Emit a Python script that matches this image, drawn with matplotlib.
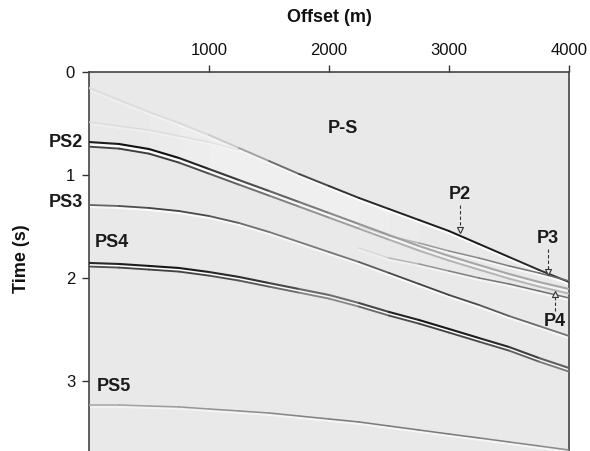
import numpy as np
import matplotlib
matplotlib.use("Agg")
import matplotlib.pyplot as plt
from matplotlib.collections import LineCollection

plt.rcParams['font.family'] = ['Liberation Sans', 'DejaVu Sans']

# ---- data (offset in m, time in s) ----
offsets = [0, 250, 500, 750, 1000, 1250, 1500, 1750, 2000,
           2250, 2500, 2750, 3000, 3250, 3500, 3750, 4000]
t_P2 = [0.155, 0.272, 0.388, 0.495, 0.612, 0.738, 0.864, 0.990, 1.107,
        1.223, 1.330, 1.437, 1.544, 1.670, 1.796, 1.922, 2.039]
a_P2 = [0.05, 0.05, 0.06, 0.06, 0.08, 0.2, 0.45, 0.65, 0.8,
        0.85, 0.9, 0.9, 0.95, 0.95, 0.9, 0.85, 0.8]
t_PS2 = [0.680, 0.699, 0.748, 0.835, 0.942, 1.049, 1.155, 1.262, 1.369,
         1.476, 1.583, 1.689, 1.786, 1.874, 1.961, 2.039, 2.107]
a_PS2 = [0.9, 0.95, 1.0, 0.95, 0.85, 0.75, 0.65, 0.55, 0.45,
         0.4, 0.35, 0.3, 0.3, 0.3, 0.3, 0.3, 0.3]
t_PS3 = [1.291, 1.301, 1.320, 1.350, 1.398, 1.466, 1.553, 1.650, 1.748,
         1.845, 1.951, 2.058, 2.165, 2.262, 2.369, 2.466, 2.563]
a_PS3 = [0.55, 0.65, 0.75, 0.75, 0.7, 0.6, 0.5, 0.5, 0.5,
         0.55, 0.7, 0.75, 0.75, 0.7, 0.6, 0.55, 0.5]
t_PS4 = [1.854, 1.864, 1.883, 1.903, 1.942, 1.990, 2.049, 2.107, 2.165,
         2.243, 2.330, 2.408, 2.495, 2.583, 2.670, 2.777, 2.874]
a_PS4 = [0.85, 0.9, 0.95, 0.95, 0.9, 0.85, 0.8, 0.65, 0.5,
         0.6, 0.85, 0.95, 0.95, 0.9, 0.85, 0.7, 0.55]
t_PS5 = [3.233, 3.233, 3.243, 3.252, 3.272, 3.291, 3.311, 3.340, 3.369,
         3.398, 3.437, 3.476, 3.515, 3.553, 3.592, 3.631, 3.670]
a_PS5 = [0.3, 0.3, 0.35, 0.35, 0.4, 0.4, 0.45, 0.45, 0.5,
         0.5, 0.5, 0.5, 0.5, 0.5, 0.45, 0.45, 0.4]

offsets_far = [2250, 2500, 2750, 3000, 3250, 3500, 3750, 4000]
t_P3 = [1.495, 1.592, 1.660, 1.738, 1.806, 1.883, 1.951, 2.029]
a_P3 = [0.0, 0.15, 0.3, 0.4, 0.45, 0.5, 0.55, 0.6]
t_P4 = [1.709, 1.806, 1.864, 1.932, 2.000, 2.058, 2.126, 2.194]
a_P4 = [0.0, 0.15, 0.3, 0.45, 0.5, 0.55, 0.55, 0.55]

offsets_near = [0, 250, 500, 750, 1000, 1250]
t_F1 = [0.485, 0.524, 0.563, 0.621, 0.680, 0.757]
a_F1 = [0.06, 0.06, 0.06, 0.06, 0.05, 0.0]

# labels: (text, offset, time)
event_labels = [("P-S", 2117, 0.544), ("PS4", 50, 1.655), ("PS5", 67, 3.05)]
side_labels = [("PS2", -50, 0.689), ("PS3", -50, 1.27)]
# arrow labels: text, offset, label time, tail time, tip time, direction
arrow_labels = [("P2", 3092, 1.194, 1.29, 1.535, 'v'),
                ("P3", 3825, 1.617, 1.72, 1.945, 'v'),
                ("P4", 3883, 2.42, 2.32, 2.16, '^')]

BG = 0.915

fig = plt.figure(figsize=(5.9, 4.51), dpi=100)
ax = fig.add_axes([89/590, 0, 480/590, 379/451])
ax.set_xlim(0, 4000)
ax.set_ylim(3.68, 0)
ax.set_facecolor((BG, BG, BG))

# lighter noisy band between P2 and PS2 (soft edges via stacked translucent fills)
for i0, i1 in [(2, 12), (3, 11), (4, 10)]:
    ax.fill_between(offsets[i0:i1], t_P2[i0:i1], t_PS2[i0:i1], color='white',
                    alpha=0.12, lw=0, zorder=1)


def segs_of(x, t):
    pts = np.column_stack([x, t])
    return np.stack([pts[:-1], pts[1:]], axis=1)


def draw_event(x, t, a, lw=1.4, shift_white=0.02, double=None):
    x = np.asarray(x, float)
    t = np.asarray(t, float)
    a = np.asarray(a, float)
    amp = 0.5 * (a[:-1] + a[1:])
    wcol = [(1, 1, 1, min(1, 0.25 + 0.75 * v)) for v in amp]
    ax.add_collection(LineCollection(segs_of(x, t + shift_white), colors=wcol,
                                     linewidths=lw * 1.1, zorder=2, capstyle='round'))
    dcol = [(BG - v * (BG - 0.05),) * 3 for v in amp]
    ax.add_collection(LineCollection(segs_of(x, t), colors=dcol, linewidths=lw,
                                     zorder=3, capstyle='round'))
    if double is not None:
        dcol2 = [(BG - 0.8 * v * (BG - 0.05),) * 3 for v in amp]
        ax.add_collection(LineCollection(segs_of(x, t + double), colors=dcol2,
                                         linewidths=lw * 0.9, zorder=3, capstyle='round'))


draw_event(offsets_near, t_F1, a_F1, lw=1.0)
draw_event(offsets, t_P2, a_P2, lw=1.4)
draw_event(offsets_far, t_P3, a_P3, lw=1.1)
draw_event(offsets_far, t_P4, a_P4, lw=1.1)
draw_event(offsets, t_PS2, a_PS2, lw=1.5, double=0.045)
draw_event(offsets, t_PS3, a_PS3, lw=1.3)
draw_event(offsets, t_PS4, a_PS4, lw=1.5, double=0.035)
draw_event(offsets, t_PS5, a_PS5, lw=1.1)

for txt, x, t in event_labels:
    ax.text(x, t, txt, fontsize=13, fontweight='bold', color='#1a1a1a',
            ha='center' if txt == 'P-S' else 'left', va='center', zorder=5)
for txt, x, t in side_labels:
    ax.text(x, t, txt, fontsize=13, fontweight='bold', color='#1a1a1a',
            ha='right', va='center', clip_on=False, zorder=5)
for txt, x, tl, tt, tip, mk in arrow_labels:
    ax.text(x, tl, txt, fontsize=13, fontweight='bold', color='#1a1a1a',
            ha='center', va='center', zorder=5)
    ax.plot([x, x], [tt, tip], color='#333333', lw=0.8, ls=(0, (3, 2)), zorder=5)
    ax.plot([x], [tip], marker=mk, ms=5, mfc=(BG, BG, BG), mec='#333333', mew=0.8,
            zorder=6)

# axes styling
ax.xaxis.tick_top()
ax.xaxis.set_label_position('top')
ax.set_xticks([1000, 2000, 3000, 4000])
ax.set_yticks([0, 1, 2, 3])
ax.tick_params(direction='out', length=5, width=1, colors='#333333', labelsize=12,
               pad=5, labelcolor='#111111')
ax.set_xlabel('Offset (m)', fontsize=13, fontweight='bold', color='#111111')
ax.xaxis.set_label_coords(0.5, (451 - 18) / 379)
ax.xaxis.label.set_va('center')
ax.set_ylabel('Time (s)', fontsize=13, fontweight='bold', color='#111111')
ax.yaxis.set_label_coords((22 - 89) / 480, (451 - 259) / 379)
ax.yaxis.label.set_va('center')
for s in ['left', 'top', 'right']:
    ax.spines[s].set_color('#444444')
    ax.spines[s].set_linewidth(1.2)
ax.spines['bottom'].set_visible(False)

fig.savefig('out.png', dpi=100, facecolor='white')
